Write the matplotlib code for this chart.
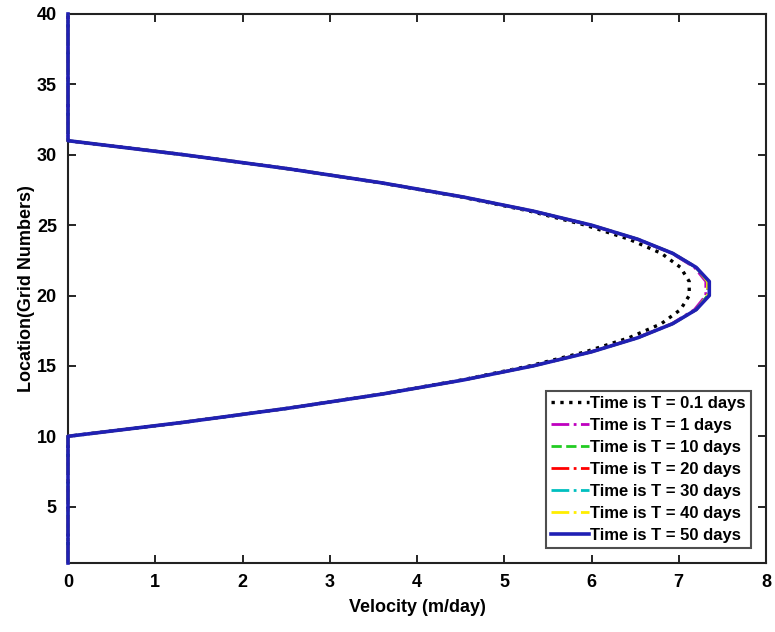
import numpy as np
import matplotlib
matplotlib.use("Agg")
import matplotlib.pyplot as plt

# grid nodes along the channel (1..40)
grid = np.arange(1, 41)

# velocity (m/day) at each grid node, one list per simulation time
wall_lo = [0.0] * 10      # nodes 1..10
wall_hi = [0.0] * 10      # nodes 31..40

u_01 = wall_lo + [1.33, 2.53, 3.59, 4.51, 5.29, 5.93, 6.43, 6.80, 7.02, 7.12,
                  7.12, 7.02, 6.80, 6.43, 5.93, 5.29, 4.51, 3.59, 2.53, 1.33] + wall_hi
u_1 = wall_lo + [1.33, 2.53, 3.60, 4.53, 5.33, 5.99, 6.52, 6.92, 7.18, 7.31,
                 7.31, 7.18, 6.92, 6.52, 5.99, 5.33, 4.53, 3.60, 2.53, 1.33] + wall_hi
u_10 = wall_lo + [1.33, 2.53, 3.60, 4.53, 5.33, 6.00, 6.53, 6.93, 7.20, 7.33,
                  7.33, 7.20, 6.93, 6.53, 6.00, 5.33, 4.53, 3.60, 2.53, 1.33] + wall_hi
u_20 = list(u_10)
u_30 = list(u_10)
u_40 = list(u_10)
u_50 = wall_lo + [1.33, 2.53, 3.60, 4.53, 5.33, 6.00, 6.53, 6.93, 7.20, 7.35,
                  7.35, 7.20, 6.93, 6.53, 6.00, 5.33, 4.53, 3.60, 2.53, 1.33] + wall_hi

labels = ["Time is T = 0.1 days", "Time is T = 1 days", "Time is T = 10 days",
          "Time is T = 20 days", "Time is T = 30 days", "Time is T = 40 days",
          "Time is T = 50 days"]
series = [u_01, u_1, u_10, u_20, u_30, u_40, u_50]
styles = [(":", "k", 2.4), ("-.", "m", 2.0), ("--", "#22cc22", 2.0),
          ("-.", "r", 2.0), ("-.", "c", 2.0), ("-.", "#ffee00", 2.0),
          ("-", "#2020b4", 2.6)]

plt.rcParams['font.family'] = ['Liberation Sans Narrow', 'Liberation Sans', 'DejaVu Sans']
plt.rcParams['font.weight'] = 'bold'

fig = plt.figure(figsize=(7.75, 6.32), dpi=100)
ax = fig.add_axes([68 / 775, 1 - 563 / 632, (766 - 68) / 775, (563 - 14) / 632])

for u, lab, (ls, col, lw) in zip(series, labels, styles):
    ax.plot(u, grid, linestyle=ls, color=col, linewidth=lw, label=lab,
            zorder=3, clip_on=False)

ax.set_xlim(0, 8)
ax.set_ylim(1, 40)
ax.set_xticks(range(0, 9))
ax.set_yticks(range(5, 41, 5))
ax.tick_params(direction='in', top=True, right=True, length=6, width=1.2,
               labelsize=13, pad=8)
for lab in ax.get_xticklabels() + ax.get_yticklabels():
    lab.set_fontweight('bold')
for sp in ax.spines.values():
    sp.set_linewidth(1.5)
    sp.set_color('#222222')

ax.set_xlabel("Velocity (m/day)", fontsize=13, fontweight='bold', labelpad=6)
ax.set_ylabel("Location(Grid Numbers)", fontsize=13, fontweight='bold', labelpad=1)

leg = ax.legend(loc='lower right', prop={'weight': 'bold', 'size': 12},
                frameon=True, fancybox=False, edgecolor='#222222',
                handlelength=2.3, handletextpad=0.1, labelspacing=0.42,
                borderpad=0.3, borderaxespad=0.9)
leg.get_frame().set_linewidth(1.5)
leg.set_zorder(5)

fig.savefig("out.png", dpi=100)
